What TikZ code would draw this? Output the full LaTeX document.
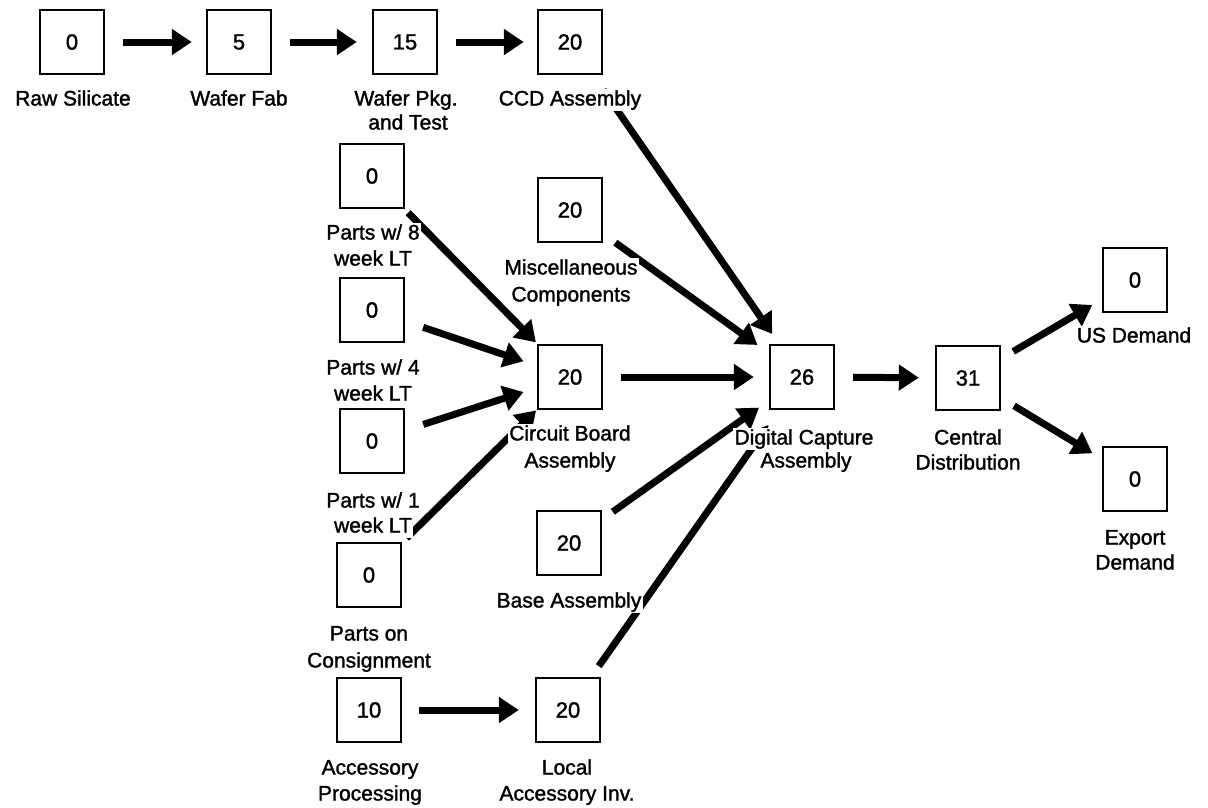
\documentclass[tikz,border=0pt]{standalone}
\usepackage{fontspec}
\setmainfont{Liberation Sans}
\newfontfamily\chartfont[FakeBold=1.5]{Liberation Sans}
\usetikzlibrary{arrows.meta}
\begin{document}
\begin{tikzpicture}[x=1pt,y=-1pt,
  stock/.style={draw, line width=2.4pt, minimum width=64pt, minimum height=64pt,
    inner sep=0pt, font=\chartfont\fontsize{22}{26}\selectfont},
  lbl/.style={fill=white, inner sep=1.5pt, text height=15pt, text depth=4pt,
    yshift=-2pt, font=\chartfont\fontsize{21}{25}\selectfont},
  flow/.style={line width=7pt, -{Triangle[length=20pt,width=25pt]}},
]
\useasboundingbox (0,0) rectangle (1208,807);

% inventory stages
\node[stock] (raw)  at (72,42)   {0};
\node[stock] (fab)  at (239,42)  {5};
\node[stock] (pkg)  at (405,42)  {15};
\node[stock] (ccd)  at (570,42)  {20};
\node[stock] (p8)   at (372,176) {0};
\node[stock] (misc) at (570,210) {20};
\node[stock] (p4)   at (372,310) {0};
\node[stock] (cb)   at (570,377) {20};
\node[stock] (p1)   at (372,441) {0};
\node[stock] (cons) at (369,575) {0};
\node[stock] (base) at (569,543) {20};
\node[stock] (acc)  at (369,710) {10};
\node[stock] (loc)  at (568,710) {20};
\node[stock] (dig)  at (802,377) {26};
\node[stock] (cen)  at (968,378) {31};
\node[stock] (us)   at (1135,280) {0};
\node[stock] (exp)  at (1135,479) {0};

% material flows
\draw[flow, shorten <=18pt, shorten >=14pt] (raw) -- (fab);
\draw[flow, shorten <=18pt, shorten >=15pt] (fab) -- (pkg);
\draw[flow, shorten <=18pt, shorten >=13pt] (pkg) -- (ccd);
\draw[flow, shorten <=18pt, shorten >=12pt] (ccd) -- (dig);
\draw[flow, shorten <=15pt, shorten >=14pt] (misc) -- (dig);
\draw[flow, shorten <=5pt,  shorten >=2pt]  (p8) -- (cb);
\draw[flow, shorten <=19pt, shorten >=14pt] (p4) -- (cb);
\draw[flow, shorten <=19pt, shorten >=14pt] (p1) -- (cb);
\draw[flow, shorten <=6pt,  shorten >=1pt]  (cons) -- (cb);
\draw[flow, shorten <=18pt, shorten >=15pt] (cb) -- (dig);
\draw[flow, shorten <=13pt, shorten >=12pt] (base) -- (dig);
\draw[flow, shorten <=13pt, shorten >=18pt] (loc) -- (dig);
\draw[flow, shorten <=17pt, shorten >=16pt] (acc) -- (loc);
\draw[flow, shorten <=18pt, shorten >=16pt] (dig) -- (cen);
\draw[flow, shorten <=14pt, shorten >=11pt] (cen) -- (us);
\draw[flow, shorten <=15pt, shorten >=11pt] (cen) -- (exp);

% stage names, one node per printed line
\node[lbl] (rawl)   at (73,98)    {Raw Silicate};
\node[lbl] (fabl)   at (239,98)   {Wafer Fab};
\node[lbl] (pkgl)   at (406,98)   {Wafer Pkg.};
\node[lbl] (pkgl2)  at (408,122)  {and Test};
\node[lbl] (ccdl)   at (570,98)   {CCD Assembly};
\node[lbl] (p8l)    at (373,232)  {Parts w/ 8};
\node[lbl] (p8l2)   at (373,258)  {week LT};
\node[lbl] (miscl)  at (571,267)  {Miscellaneous};
\node[lbl] (miscl2) at (571,294)  {Components};
\node[lbl] (p4l)    at (373,367)  {Parts w/ 4};
\node[lbl] (p4l2)   at (373,393)  {week LT};
\node[lbl] (cbl)    at (570,433)  {Circuit Board};
\node[lbl] (cbl2)   at (570,460)  {Assembly};
\node[lbl] (p1l)    at (373,500)  {Parts w/ 1};
\node[lbl] (p1l2)   at (373,525)  {week LT};
\node[lbl] (consl)  at (369,633)  {Parts on};
\node[lbl] (consl2) at (369,660)  {Consignment};
\node[lbl] (basel)  at (569,600)  {Base Assembly};
\node[lbl] (accl)   at (370,767)  {Accessory};
\node[lbl] (accl2)  at (370,793)  {Processing};
\node[lbl] (locl)   at (567,767)  {Local};
\node[lbl] (locl2)  at (567,793)  {Accessory Inv.};
\node[lbl] (digl)   at (804,437)  {Digital Capture};
\node[lbl] (digl2)  at (806,460)  {Assembly};
\node[lbl] (cenl)   at (968,437)  {Central};
\node[lbl] (cenl2)  at (968,462)  {Distribution};
\node[lbl] (usl)    at (1134,335) {US Demand};
\node[lbl] (expl)   at (1135,537) {Export};
\node[lbl] (expl2)  at (1135,562) {Demand};
\end{tikzpicture}
\end{document}
